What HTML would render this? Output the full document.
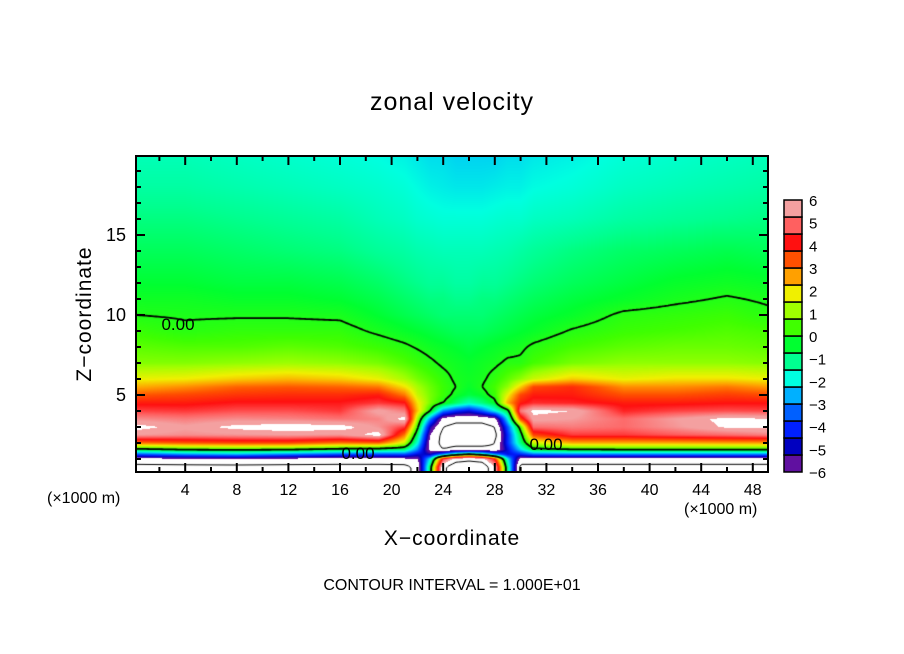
<!DOCTYPE html>
<html><head><meta charset="utf-8">
<style>
body{margin:0;background:#fff;width:904px;height:654px;overflow:hidden;position:relative;font-family:"Liberation Sans","DejaVu Sans",sans-serif;}
.t{position:absolute;white-space:nowrap;color:#000;}
</style></head>
<body>
<div class="t" style="left:0;width:904px;text-align:center;top:88px;font-size:25px;letter-spacing:1px;">zonal velocity</div>
<div class="t" style="left:-15px;top:302px;width:200px;text-align:center;font-size:21px;transform:rotate(-90deg);letter-spacing:1px;">Z−coordinate</div>
<div class="t" style="left:0;width:904px;text-align:center;top:527px;font-size:21px;letter-spacing:1px;">X−coordinate</div>
<div class="t" style="left:47px;top:490px;font-size:16px;">(×1000 m)</div>
<div class="t" style="left:684px;top:501px;font-size:16px;">(×1000 m)</div>
<div class="t" style="left:0;width:904px;text-align:center;top:577px;font-size:16px;">CONTOUR INTERVAL = 1.000E+01</div>
<canvas id="field" width="632" height="316" style="position:absolute;left:136px;top:156px;"></canvas>
<svg id="ov" width="904" height="654" style="position:absolute;left:0;top:0;"></svg>
<script>
const xs=[0,4,8,12,16,19,21,22,23,24,25,26,27,28,29,30,31,34,38,42,46,50];
const zs=[0,0.5,1,1.3,1.6,2,2.5,3,3.5,4,4.5,5,5.5,6,7,8,9,10,11,12,14,16,18,20];
const u00=[-8,-8,-8,-8,-8,-8,-8,-7,-0.5,7,9,9,9,6,-1,-8,-8,-8,-8,-8,-8,-8];
const u05=[-8,-8,-8,-8,-8,-8,-8,-7,-0.5,7,9,9,9,6,-1,-8,-8,-8,-8,-8,-8,-8];
const u10=[-6.5,-6.2,-6,-6.3,-6.5,-6.5,-6.3,-6,-2,4.5,6.5,7,6.5,4,-2,-6.5,-6.5,-6.5,-6.5,-6.5,-6.5,-6.5];
const u13=[-3.5,-2.8,-2.5,-3.0,-3.5,-3.5,-3.5,-4.5,-5,-3,-1,0,-1,-3,-4.5,-4,-3.2,-3,-3,-3,-3,-3];
const u16=[-0.3,0.2,0.3,0.2,-0.3,-0.5,-0.8,-3,-6.5,-7.5,-7,-7,-7,-7.2,-4.5,-2.2,-0.3,0.1,0.2,0.2,0.2,0.3];
const u20=[3,3.3,3.5,3.5,3,3.2,1.5,-1.8,-6.5,-8,-8,-8,-8,-7.5,-4,-1,1.5,2.5,2.5,2.5,2.6,2.6];
const u25=[5.6,5.4,5.5,5.6,5.5,6.3,3.0,-0.8,-6,-8,-8,-8,-8,-8,-4,-0.5,3.5,4.5,4.5,4.8,5.0,5.3];
const u30=[6.3,5.7,6.2,6.4,6.3,5.5,4.5,0.3,-5,-7.5,-8,-8,-8,-7.5,-3.5,0.5,5.0,5.2,5.0,5.5,6.1,6.2];
const u35=[5.4,5.2,5.4,5.3,5.1,5.3,6.3,1.2,-3,-6.5,-7,-7,-7,-6.5,-2,3.5,5.8,5.6,5.0,5.6,6.2,6.0];
const u40=[4.6,4.5,4.7,4.7,4.5,5.8,5.2,2.3,0,-3,-4,-4.5,-3.5,-2,-0.5,5.2,6.2,6.0,4.3,4.6,4.7,4.6];
const u45=[4.0,4.0,4.2,4.2,4.2,4.5,4.2,2.0,0.8,0,-0.8,-1.5,-1.0,-0.3,2.5,4.0,4.4,4.3,4.0,4.0,4.1,4.1];
const u50=[3.3,3.5,3.7,3.8,3.8,4.0,3.0,1.5,0.8,0.3,-0.2,-0.5,-0.3,0.3,1.8,3.5,4.0,4.0,3.4,3.4,3.6,3.4];
const u55=[2.5,2.8,3.2,3.3,3.2,3.0,2.0,1.2,0.7,0.3,0,-0.3,0,0.4,1.0,2.2,3.5,3.8,2.8,2.8,3.0,2.6];
const u60=[1.8,1.9,2.2,2.4,2.2,1.8,1.2,0.8,0.5,0.2,-0.1,-0.2,-0.1,0.2,0.6,1.0,1.5,2.2,1.8,2.0,2.0,1.8];
const u70=[0.9,0.9,1.0,1.1,1.0,0.8,0.5,0.3,0.1,-0.1,-0.2,-0.3,-0.2,-0.1,0.1,0.1,0.4,0.8,1.0,1.0,1.0,0.9];
const u80=[0.6,0.5,0.5,0.6,0.5,0.3,0.1,-0.05,-0.2,-0.3,-0.4,-0.5,-0.4,-0.3,-0.2,-0.1,0.1,0.4,0.6,0.7,0.7,0.6];
const u90=[0.3,0.1,0.2,0.2,0.2,-0.1,-0.3,-0.4,-0.5,-0.6,-0.7,-0.7,-0.7,-0.6,-0.5,-0.4,-0.3,0.05,0.3,0.4,0.5,0.4];
const u100=[0,-0.05,-0.05,-0.05,-0.1,-0.4,-0.6,-0.7,-0.8,-0.9,-0.9,-0.9,-0.9,-0.8,-0.7,-0.6,-0.5,-0.3,0.1,0.2,0.3,0.05];
const u110=[-0.2,-0.2,-0.3,-0.3,-0.4,-0.6,-0.8,-0.9,-1.0,-1.0,-1.1,-1.1,-1.0,-1.0,-0.9,-0.8,-0.7,-0.5,-0.3,-0.1,0.05,-0.1];
const u120=[-0.4,-0.4,-0.5,-0.5,-0.6,-0.8,-1.0,-1.1,-1.2,-1.2,-1.3,-1.3,-1.2,-1.2,-1.1,-1.0,-0.9,-0.7,-0.5,-0.3,-0.2,-0.3];
const u140=[-0.7,-0.7,-0.8,-0.9,-1.0,-1.2,-1.3,-1.4,-1.45,-1.5,-1.5,-1.5,-1.5,-1.45,-1.4,-1.3,-1.2,-1.0,-0.8,-0.7,-0.6,-0.7];
const u160=[-1.0,-1.0,-1.1,-1.2,-1.3,-1.5,-1.6,-1.7,-1.75,-1.8,-1.8,-1.8,-1.8,-1.75,-1.7,-1.7,-1.6,-1.5,-1.3,-1.2,-1.1,-1.0];
const u180=[-1.3,-1.3,-1.4,-1.5,-1.6,-1.7,-1.8,-1.9,-2.0,-2.05,-2.1,-2.1,-2.1,-2.05,-2.0,-2.0,-1.9,-1.8,-1.6,-1.5,-1.4,-1.3];
const u200=[-1.5,-1.5,-1.6,-1.7,-1.8,-1.9,-2.0,-2.1,-2.2,-2.2,-2.3,-2.3,-2.3,-2.3,-2.2,-2.2,-2.1,-2.0,-1.8,-1.7,-1.6,-1.5];
const grid=[u00,u05,u10,u13,u16,u20,u25,u30,u35,u40,u45,u50,u55,u60,u70,u80,u90,u100,u110,u120,u140,u160,u180,u200];
const xTicks=[4,8,12,16,20,24,28,32,36,40,44,48];
const zTicks=[5,10,15];
const cbLabels=[6,5,4,3,2,1,0,-1,-2,-3,-4,-5,-6];
const cbColors=["#6010a0","#0000c0","#0020ff","#0060ff","#00b0ff","#00ffe0","#00ff90","#00ff30","#40ff00","#a0ff00","#f0f000","#ffa000","#ff5000","#ff1010","#ff6060","#f4a0a0"];

const sx=x=>133.6+x*12.9, sz=z=>475-16*z;
const PL=136,PT=156,PW=632,PH=316;
function seg(arr,v){let i=0;while(i<arr.length-2&&v>arr[i+1])i++;let t=(v-arr[i])/(arr[i+1]-arr[i]);return [i,Math.max(0,Math.min(1,t))];}
function field(x,z){const [i,tx]=seg(xs,x),[j,tz]=seg(zs,z);
 const a=grid[j][i],b=grid[j][i+1],c=grid[j+1][i],d=grid[j+1][i+1];
 return (a*(1-tx)+b*tx)*(1-tz)+(c*(1-tx)+d*tx)*tz;}
const rgb=cbColors.map(h=>[parseInt(h.slice(1,3),16),parseInt(h.slice(3,5),16),parseInt(h.slice(5,7),16)]);
function color(v){if(v>6||v<-6)return [255,255,255];
 let p=(v+6)/0.75-0.5; if(p<0)p=0; if(p>15)p=15; const k=Math.min(14,Math.floor(p)),t=p-k;
 return [0,1,2].map(m=>Math.round(rgb[k][m]*(1-t)+rgb[k+1][m]*t));}
const cv=document.getElementById('field'),ctx=cv.getContext('2d');
const img=ctx.createImageData(PW,PH);
for(let j=0;j<PH;j++)for(let i=0;i<PW;i++){
 const x=(PL+i+0.5-133.6)/12.9, z=(475-(PT+j+0.5))/16;
 const c=color(field(x,z)),o=(j*PW+i)*4;
 img.data[o]=c[0];img.data[o+1]=c[1];img.data[o+2]=c[2];img.data[o+3]=255;}
ctx.putImageData(img,0,0);
function contour(L,w,dash){const st=2,nx=Math.ceil(PW/st)+1,ny=Math.ceil(PH/st)+1,f=[];
 for(let j=0;j<ny;j++){f[j]=[];for(let i=0;i<nx;i++){f[j][i]=field((PL+i*st-133.6)/12.9,(475-(PT+j*st))/16)-L;}}
 ctx.beginPath();ctx.lineWidth=w;ctx.strokeStyle='#000';ctx.setLineDash(dash);
 for(let j=0;j<ny-1;j++)for(let i=0;i<nx-1;i++){
  const v=[f[j][i],f[j][i+1],f[j+1][i+1],f[j+1][i]],P=[[i,j],[i+1,j],[i+1,j+1],[i,j+1]],pts=[];
  for(let e=0;e<4;e++){const a=v[e],b=v[(e+1)%4];if((a<0)!==(b<0)){const t=a/(a-b),p=P[e],q=P[(e+1)%4];pts.push([(p[0]+(q[0]-p[0])*t)*st,(p[1]+(q[1]-p[1])*t)*st]);}}
  if(pts.length>=2){ctx.moveTo(pts[0][0],pts[0][1]);ctx.lineTo(pts[1][0],pts[1][1]);}
  if(pts.length===4){ctx.moveTo(pts[2][0],pts[2][1]);ctx.lineTo(pts[3][0],pts[3][1]);}}
 ctx.stroke();}
contour(0,1.8,[]);contour(-7.5,1,[]);contour(7.5,1,[]);
const NS='http://www.w3.org/2000/svg',ov=document.getElementById('ov');
function el(tag,attrs,txt){const e=document.createElementNS(NS,tag);for(const k in attrs)e.setAttribute(k,attrs[k]);if(txt!==undefined)e.textContent=txt;ov.appendChild(e);return e;}
let e;
e=el('rect',{x:PL,y:PT,width:PW,height:PH,fill:'none',stroke:'#000','stroke-width':2});


for(let x=2;x<=48;x+=2){const maj=xTicks.includes(x),L=maj?9:5;
 el('line',{x1:sx(x),x2:sx(x),y1:PT+PH,y2:PT+PH-L,stroke:'#000','stroke-width':2});
 el('line',{x1:sx(x),x2:sx(x),y1:PT,y2:PT+L,stroke:'#000','stroke-width':2});}
xTicks.forEach(x=>{const t=el('text',{x:sx(x),y:495,'text-anchor':'middle','font-size':16,'font-family':'Liberation Sans, sans-serif'},String(x));
 
 });
for(let z=1;z<=19;z++){const maj=zTicks.includes(z),L=maj?9:5;
 el('line',{x1:PL,x2:PL+L,y1:sz(z),y2:sz(z),stroke:'#000','stroke-width':2});
 el('line',{x1:PL+PW,x2:PL+PW-L,y1:sz(z),y2:sz(z),stroke:'#000','stroke-width':2});}
zTicks.forEach(z=>{const t=el('text',{x:126,y:sz(z)+6,'text-anchor':'end','font-size':18,'font-family':'Liberation Sans, sans-serif'},String(z));
 
 });
[[178,330],[358,459],[546,450]].forEach(p=>{const t=el('text',{x:p[0],y:p[1],'text-anchor':'middle','font-size':17,'font-family':'Liberation Sans, sans-serif'},'0.00');
 
 });
const cbTop=200,cbBot=472,bh=(cbBot-cbTop)/cbColors.length;
cbColors.forEach((c,i)=>{const r=el('rect',{x:784,y:cbBot-(i+1)*bh,width:18,height:bh,fill:c,stroke:'#000','stroke-width':1.5});
 
 });
cbLabels.forEach((v,i)=>{const t=el('text',{x:809,y:cbTop+i*(cbBot-cbTop)/(cbLabels.length-1)+6,'font-size':15,'font-family':'Liberation Sans, sans-serif'},v<0?'−'+(-v):String(v));
 
 });
</script>
</body></html>
